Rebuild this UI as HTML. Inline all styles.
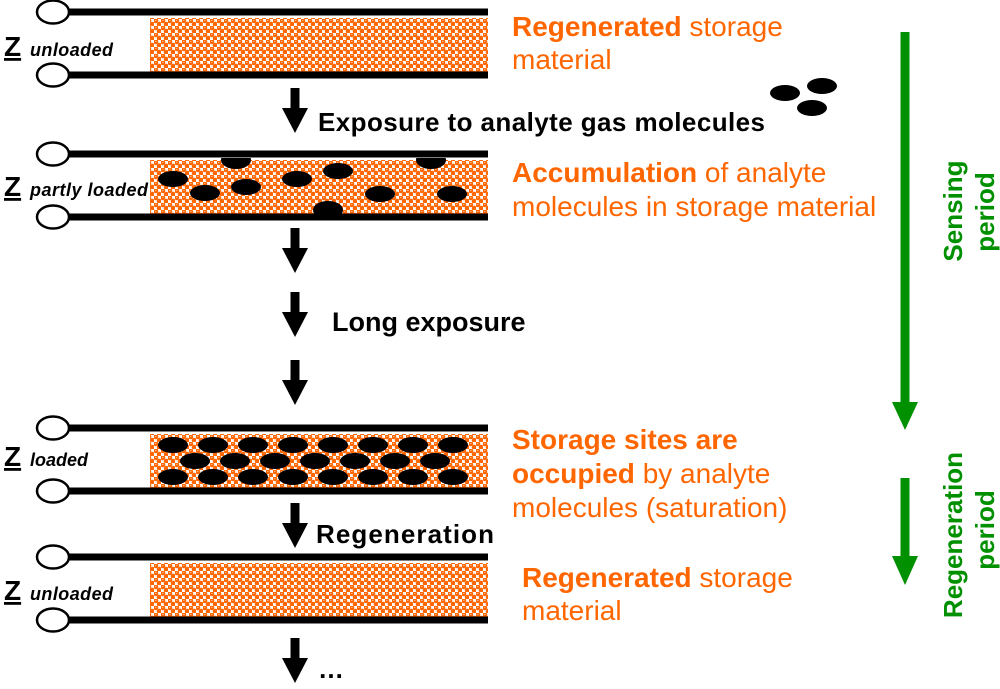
<!DOCTYPE html>
<html><head><meta charset="utf-8"><style>body{margin:0;background:#fff}</style></head><body>
<svg width="1000" height="684" viewBox="0 0 1000 684" xmlns="http://www.w3.org/2000/svg" font-family="Liberation Sans, sans-serif">
<defs>
<pattern id="p" width="7" height="7" patternUnits="userSpaceOnUse">
<rect width="7" height="7" fill="#fff"/>
<circle cx="1.75" cy="1.75" r="2.5" fill="#ff6600"/>
<circle cx="5.25" cy="5.25" r="2.5" fill="#ff6600"/>
<rect x="1" y="1" width="1.5" height="0.8" fill="#ffc090"/>
</pattern>
<g id="frame">
<rect x="150" y="6" width="338" height="58" fill="url(#p)"/>
<line x1="68" y1="0" x2="488" y2="0" stroke="#000" stroke-width="7"/>
<line x1="68" y1="63" x2="488" y2="63" stroke="#000" stroke-width="7"/>
<ellipse cx="53" cy="0" rx="16" ry="11.5" fill="#fff" stroke="#000" stroke-width="2.5"/>
<ellipse cx="53" cy="63" rx="16" ry="11.5" fill="#fff" stroke="#000" stroke-width="2.5"/>
</g>
<g id="arr"><rect x="-4.5" y="0" width="9" height="22" fill="#000"/><polygon points="-13,20 13,20 0,45" fill="#000"/></g>
</defs>
<g fill="#000" font-weight="bold">
<use href="#frame" y="12"/>
<text x="4" y="56" font-size="28" text-decoration="underline">Z</text>
<text x="30" y="56" font-size="18" font-style="italic" textLength="83">unloaded</text>
<use href="#frame" y="154"/>
<use href="#frame" y="428"/>
<text x="4" y="466" font-size="28" text-decoration="underline">Z</text>
<text x="30" y="466" font-size="18" font-style="italic">loaded</text>
<use href="#frame" y="557"/>
<text x="4" y="600" font-size="28" text-decoration="underline">Z</text>
<text x="30" y="600" font-size="18" font-style="italic" textLength="83">unloaded</text>
</g>
<g fill="#000">
<clipPath id="c2"><rect x="150" y="158" width="338" height="56"/></clipPath>
<g clip-path="url(#c2)">
<ellipse cx="236" cy="160" rx="15" ry="9"/><ellipse cx="431" cy="160" rx="15" ry="9"/><ellipse cx="328" cy="210" rx="15" ry="9"/>
</g>
<ellipse cx="173" cy="179" rx="15" ry="8"/><ellipse cx="205" cy="193" rx="15" ry="8"/><ellipse cx="246" cy="187" rx="15" ry="8"/>
<ellipse cx="297" cy="179" rx="15" ry="8"/><ellipse cx="338" cy="171" rx="15" ry="8"/><ellipse cx="380" cy="194" rx="15" ry="8"/><ellipse cx="452" cy="194" rx="15" ry="8"/>
<ellipse cx="785" cy="93" rx="15" ry="8"/><ellipse cx="822" cy="86" rx="15" ry="8"/><ellipse cx="812" cy="108" rx="15" ry="8"/>
</g>
<g fill="#000">
<g id="row"><ellipse cx="173" cy="445" rx="15" ry="8"/><ellipse cx="213" cy="445" rx="15" ry="8"/><ellipse cx="253" cy="445" rx="15" ry="8"/><ellipse cx="293" cy="445" rx="15" ry="8"/><ellipse cx="333" cy="445" rx="15" ry="8"/><ellipse cx="373" cy="445" rx="15" ry="8"/><ellipse cx="413" cy="445" rx="15" ry="8"/><ellipse cx="453" cy="445" rx="15" ry="8"/></g>
<use href="#row" y="32"/>
<ellipse cx="195" cy="461" rx="15" ry="8"/><ellipse cx="235" cy="461" rx="15" ry="8"/><ellipse cx="275" cy="461" rx="15" ry="8"/><ellipse cx="315" cy="461" rx="15" ry="8"/><ellipse cx="355" cy="461" rx="15" ry="8"/><ellipse cx="395" cy="461" rx="15" ry="8"/><ellipse cx="435" cy="461" rx="15" ry="8"/>
</g>
<text x="4" y="196" font-size="28" font-weight="bold" text-decoration="underline">Z</text>
<text x="30" y="196" font-size="18" font-weight="bold" font-style="italic" textLength="118">partly loaded</text>
<use href="#arr" x="295" y="88"/><use href="#arr" x="295" y="228"/><use href="#arr" x="295" y="292"/><use href="#arr" x="295" y="360"/><use href="#arr" x="295" y="503"/><use href="#arr" x="295" y="638"/>
<g font-size="26" font-weight="bold" fill="#000">
<text x="318" y="131" textLength="447">Exposure to analyte gas molecules</text>
<text x="332" y="331" font-size="27">Long exposure</text>
<text x="316" y="543" textLength="178">Regeneration</text>
<text x="318" y="678">…</text>
</g>
<g font-size="28" fill="#ff6600">
<text x="512" y="36"><tspan font-weight="bold">Regenerated</tspan> storage</text>
<text x="512" y="69">material</text>
<text x="512" y="182"><tspan font-weight="bold">Accumulation</tspan> of analyte</text>
<text x="512" y="216">molecules in storage material</text>
<text x="512" y="449" font-weight="bold">Storage sites are</text>
<text x="512" y="483"><tspan font-weight="bold">occupied</tspan> by analyte</text>
<text x="512" y="517">molecules (saturation)</text>
<text x="522" y="587"><tspan font-weight="bold">Regenerated</tspan> storage</text>
<text x="522" y="620">material</text>
</g>
<g fill="#009000">
<rect x="900.5" y="32" width="9" height="372"/><polygon points="892,402 918,402 905,430"/>
<rect x="900.5" y="478" width="9" height="80"/><polygon points="892,556 918,556 905,585"/>
<g font-size="26" font-weight="bold" text-anchor="middle">
<text transform="translate(962,211) rotate(-90)">Sensing</text>
<text transform="translate(994,212) rotate(-90)">period</text>
<text transform="translate(962,535) rotate(-90)">Regeneration</text>
<text transform="translate(994,530) rotate(-90)">period</text>
</g>
</g>
</svg>
</body></html>
